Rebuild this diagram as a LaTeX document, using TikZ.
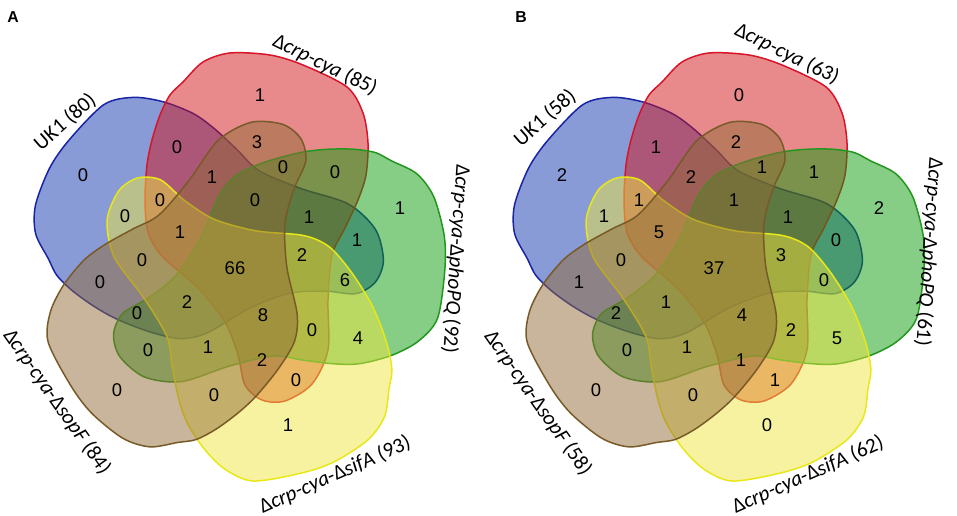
\documentclass[tikz,border=0pt]{standalone}
\usepackage{fontspec}
\setmainfont{Liberation Sans}
\newfontfamily\carlito{Carlito}
\usetikzlibrary{calc}

\definecolor{ukblue}{RGB}{19,55,173}
\definecolor{ukline}{RGB}{25,35,165}
\definecolor{cyared}{RGB}{209,21,25}
\definecolor{cyaline}{RGB}{215,20,40}
\definecolor{phogreen}{RGB}{13,155,13}
\definecolor{pholine}{RGB}{35,150,30}
\definecolor{sifyellow}{RGB}{237,229,65}
\definecolor{sifline}{RGB}{232,232,25}
\definecolor{sopbrown}{RGB}{145,107,55}
\definecolor{sopline}{RGB}{120,90,40}

\tikzset{
	venn/.style={fill opacity=0.5, line width=0.85pt},
	num/.style={font=\fontsize{10.5}{12}\selectfont, inner sep=0pt},
	setname/.style={font=\carlito\fontsize{12}{14}\selectfont, inner sep=0pt},
	panel/.style={font=\bfseries\fontsize{9}{11}\selectfont, inner sep=0pt}
}

\def\petal{plot[smooth cycle] coordinates {(-50,-183) (-30,-203) (-3,-212) (37,-210) (70,-200) (114,-178) (130,-152) (135,-122) (133,-90) (125,-65) (112,-37) (99,-10) (95,35) (95,85) (79,119) (52,136) (29,135) (12,120) (5,90) (-8,57) (-35,23) (-71,-9) (-85,-33) (-88,-65) (-86,-100) (-81,-125) (-73,-150) (-63,-170)}}

\newcommand{\vennsets}{%
	\begin{scope}[shift={(233,265)}]
		\filldraw[venn, fill=ukblue, draw=ukline, shift={(5,3)}, rotate=72] \petal;
		\filldraw[venn, fill=cyared, draw=cyaline] \petal;
		\filldraw[venn, fill=phogreen, draw=pholine, rotate=-72] \petal;
		\filldraw[venn, fill=sifyellow, draw=sifline, shift={(8,5)}, rotate=-144] \petal;
		\filldraw[venn, fill=sopbrown, draw=sopline, shift={(12,0)}, rotate=144] \petal;
	\end{scope}}

\begin{document}
\begin{tikzpicture}[x=0.02cm, y=-0.02cm]
	\useasboundingbox (0,0) rectangle (957,516);

	\vennsets
	\begin{scope}[shift={(479,0)}]
		\vennsets
	\end{scope}

	\foreach \x/\y/\a/\b [count=\i] in {260/95/1/0, 177/147/0/1, 257/142/3/2, 83/175/0/2, 212/177/1/2, 283/167/0/1, 335/172/0/1, 400/208/1/2, 160/200/0/1, 255/200/0/1, 125/216/0/1, 309/217/1/1, 180/232/1/5, 357/240/1/0, 302/255/2/3, 142/260/0/0, 235/268/66/37, 345/280/6/0, 100/282/0/1, 187/302/2/1, 137/313/0/2, 263/315/8/4, 312/330/0/2, 358/338/4/5, 148/350/0/0, 208/347/1/1, 262/360/2/1, 296/380/0/1, 117/390/0/0, 214/395/0/0, 288/425/1/0}{
		\node[num] (a\i) at (\x,\y) {\a};
		\node[num] (b\i) at (\x+479,\y) {\b};
	}

	\node[panel] (pa) at (13,17) {A};
	\node[panel] (pb) at (521,17) {B};

	\node[setname, rotate=41] (uka) at (65,122) {UK1 (80)};
	\node[setname, rotate=-26] (cyaa) at (325,65) {Δ\textit{crp-cya} (85)};
	\node[setname, rotate=-94] (phoa) at (456,259) {Δ\textit{crp-cya}-Δ\textit{phoPQ} (92)};
	\node[setname, rotate=24] (sifa) at (335,475) {Δ\textit{crp-cya}-Δ\textit{sifA} (93)};
	\node[setname, rotate=-55] (sopa) at (57,402) {Δ\textit{crp-cya}-Δ\textit{sopF} (84)};

	\node[setname, rotate=41] (ukb) at (545,118) {UK1 (58)};
	\node[setname, rotate=-26] (cyab) at (787,54) {Δ\textit{crp-cya} (63)};
	\node[setname, rotate=-94] (phob) at (929,252) {Δ\textit{crp-cya}-Δ\textit{phoPQ} (61)};
	\node[setname, rotate=24] (sifb) at (808,475) {Δ\textit{crp-cya}-Δ\textit{sifA} (62)};
	\node[setname, rotate=-55] (sopb) at (538,403) {Δ\textit{crp-cya}-Δ\textit{sopF} (58)};
\end{tikzpicture}
\end{document}
